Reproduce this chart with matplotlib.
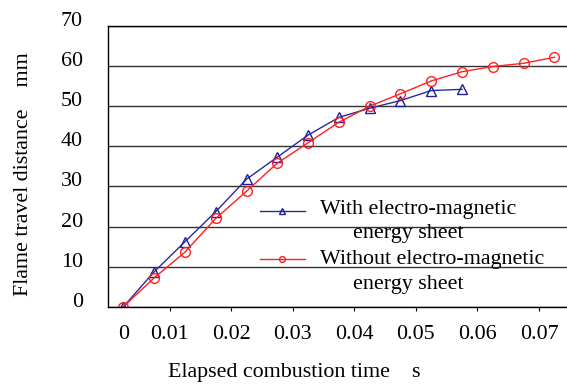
import numpy as np
import matplotlib
matplotlib.use("Agg")
import matplotlib.pyplot as plt
import matplotlib.transforms as mtransforms
from matplotlib.legend_handler import HandlerLine2D

# elapsed time (s) and flame travel distance (mm)
time_with = [0.0025, 0.0075, 0.0125, 0.0175, 0.0225, 0.0275, 0.0325,
             0.0375, 0.0425, 0.0475, 0.0525, 0.0575]
dist_with = [0, 8.7, 16.2, 23.7, 31.8, 37.3, 42.8, 47.2, 49.5, 51.4, 53.9, 54.2]

time_without = [0.0025, 0.0075, 0.0125, 0.0175, 0.0225, 0.0275, 0.0325,
                0.0375, 0.0425, 0.0475, 0.0525, 0.0575, 0.0625, 0.0675, 0.0725]
dist_without = [0, 7.2, 13.6, 22.0, 28.8, 35.8, 40.9, 46.0, 50.0, 53.1,
                56.3, 58.6, 59.9, 60.7, 62.2]

x_ticks = [0, 0.01, 0.02, 0.03, 0.04, 0.05, 0.06, 0.07]
x_tick_labels = ["0", "0.01", "0.02", "0.03", "0.04", "0.05", "0.06", "0.07"]
y_ticks = [0, 10, 20, 30, 40, 50, 60, 70]

label_with = "With electro-magnetic\n      energy sheet"
label_without = "Without electro-magnetic\n      energy sheet"


class RaisedLineHandler(HandlerLine2D):
    """Legend line handle shifted up so it sits beside the first label line."""

    def __init__(self, lift=8.0, **kw):
        super().__init__(**kw)
        self.lift = lift

    def create_artists(self, legend, orig_handle, xdescent, ydescent,
                       width, height, fontsize, trans):
        artists = super().create_artists(legend, orig_handle, xdescent,
                                         ydescent, width, height, fontsize, trans)
        for a in artists:
            a.set_ydata(np.asarray(a.get_ydata()) + self.lift)
        return artists


plt.rcParams["font.family"] = ["Liberation Serif", "DejaVu Serif"]
fs = 15.8

fig = plt.figure(figsize=(5.67, 3.85), dpi=100)
ax = fig.add_axes([108 / 567, 78.3 / 385, 459 / 567, 280.7 / 385])

line_with, = ax.plot(time_with, dist_with, color="#2a2a9c", lw=1, marker="^",
                     ms=7, mfc="none", mec="#1f1f95", mew=1, label=label_with)
line_without, = ax.plot(time_without, dist_without, color="#ff2020", lw=1,
                        marker="o", ms=7, mfc="none", mec="#ff2020", mew=1,
                        label=label_without)

ax.set_xlim(0, 0.07455)
ax.set_ylim(0, 70)

ax.set_yticks(y_ticks)
ax.set_yticklabels([str(v) for v in y_ticks], fontsize=fs)
ax.tick_params(axis="y", length=0, pad=18)
ax.yaxis.grid(True, color="#333333", lw=1)
ax.set_axisbelow(True)

ax.set_xticks(x_ticks)
ax.set_xticklabels(x_tick_labels, fontsize=fs)
ax.tick_params(axis="x", direction="out", length=3, width=0.8, pad=10)

# nudge y labels up a little, move the "0" time label under the first point
up = mtransforms.ScaledTranslation(0, 5 / 72, fig.dpi_scale_trans)
for lbl in ax.get_yticklabels():
    lbl.set_transform(lbl.get_transform() + up)
right = mtransforms.ScaledTranslation(11 / 72, 0, fig.dpi_scale_trans)
first = ax.get_xticklabels()[0]
first.set_transform(first.get_transform() + right)
ax.xaxis.get_major_ticks()[0].tick1line.set_visible(False)

for side in ("left", "bottom", "top"):
    ax.spines[side].set_color("black")
    ax.spines[side].set_linewidth(1)
ax.spines["right"].set_visible(False)

fig.text(24 / 567, 1 - 174 / 385, "Flame travel distance    mm", rotation=90,
         ha="center", va="center", fontsize=fs)
fig.text(294 / 567, 1 - 372 / 385, "Elapsed combustion time    s",
         ha="center", va="center", fontsize=fs)

leg = ax.legend(loc="upper left", bbox_to_anchor=(0.331, 0.38), frameon=False,
                fontsize=fs, borderpad=0, borderaxespad=0, handlelength=2.05,
                handletextpad=0.7, labelspacing=0.32, markerscale=0.6,
                handler_map={line_with: RaisedLineHandler(lift=7.5),
                             line_without: RaisedLineHandler(lift=9.0)})
for t in leg.get_texts():
    t.set_linespacing(1.38)

fig.savefig("out.png", dpi=100)
plt.close(fig)
